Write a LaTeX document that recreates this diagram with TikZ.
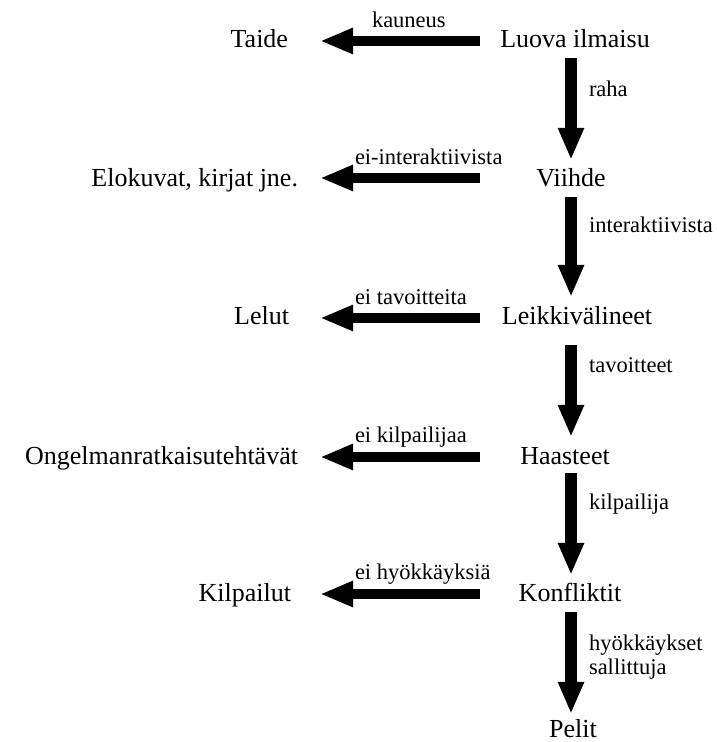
\documentclass[tikz,border=0pt]{standalone}
\usepackage{fontspec}
\setmainfont{Liberation Serif}
\usetikzlibrary{arrows.meta}

\tikzset{
  term/.style={inner sep=0pt, outer sep=0pt, font=\fontsize{26}{30}\selectfont},
  lbl/.style={inner sep=0pt, outer sep=0pt, anchor=base west, font=\fontsize{22.5}{24}\selectfont},
  hfat/.style={line width=10.5pt, -{Triangle[length=33pt, width=24pt]}},
  vfat/.style={line width=11.5pt, -{Triangle[length=32pt, width=24pt]}},
}

\begin{document}
\begin{tikzpicture}[x=1pt, y=1pt]
\useasboundingbox (0,0) rectangle (717,742);

% columns used by the connectors
\coordinate (tailcol) at (480,0);
\coordinate (tipcol) at (320,0);
\coordinate (vcol) at (571,0);

% main chain
\node[term, anchor=base] (luova)      at (575,694) {Luova ilmaisu};
\node[term, anchor=base] (viihde)     at (571,555) {Viihde};
\node[term, anchor=base] (leikki)     at (577,417) {Leikkivälineet};
\node[term, anchor=base] (haasteet)   at (565,277) {Haasteet};
\node[term, anchor=base] (konfliktit) at (570,140) {Konfliktit};
\node[term, anchor=base] (pelit)      at (573,5)   {Pelit};

% side branches
\node[term, anchor=base east] (taide)     at (288,694) {Taide};
\node[term, anchor=base east] (elokuvat)  at (298,555) {Elokuvat, kirjat jne.};
\node[term, anchor=base east] (lelut)     at (289,417) {Lelut};
\node[term, anchor=base east] (ongelma)   at (298,277) {Ongelmanratkaisutehtävät};
\node[term, anchor=base east] (kilpailut) at (291,140) {Kilpailut};

% branch arrows
\draw[hfat] ([yshift=7pt]tailcol |- luova.base)      -- ([yshift=7pt]tipcol |- taide.base);
\draw[hfat] ([yshift=9pt]tailcol |- viihde.base)     -- ([yshift=9pt]tipcol |- elokuvat.base);
\draw[hfat] ([yshift=7pt]tailcol |- leikki.base)     -- ([yshift=7pt]tipcol |- lelut.base);
\draw[hfat] ([yshift=8pt]tailcol |- haasteet.base)   -- ([yshift=8pt]tipcol |- ongelma.base);
\draw[hfat] ([yshift=8pt]tailcol |- konfliktit.base) -- ([yshift=8pt]tipcol |- kilpailut.base);

% chain arrows
\draw[vfat] ([yshift=-10pt]vcol |- luova.base)      -- ([yshift=27pt]vcol |- viihde.base);
\draw[vfat] ([yshift=-10pt]vcol |- viihde.base)     -- ([yshift=28pt]vcol |- leikki.base);
\draw[vfat] ([yshift=-20pt]vcol |- leikki.base)     -- ([yshift=28pt]vcol |- haasteet.base);
\draw[vfat] ([yshift=-8pt]vcol |- haasteet.base)    -- ([yshift=27pt]vcol |- konfliktit.base);
\draw[vfat] ([yshift=-10pt]vcol |- konfliktit.base) -- ([yshift=23pt]vcol |- pelit.base);

% branch labels
\node[lbl] (l1) at (372,714) {kauneus};
\node[lbl] (l2) at (355,577) {ei-interaktiivista};
\node[lbl] (l3) at (355,437) {ei tavoitteita};
\node[lbl] (l4) at (355,299) {ei kilpailijaa};
\node[lbl] (l5) at (355,162) {ei hyökkäyksiä};

% chain labels
\node[lbl] (c1) at (589,645) {raha};
\node[lbl] (c2) at (589,509) {interaktiivista};
\node[lbl] (c3) at (589,369) {tavoitteet};
\node[lbl] (c4) at (589,232) {kilpailija};
\node[lbl] (c5) at (589,91)
  {\begin{tabular}[t]{@{}l@{}}hyökkäykset\\ sallittuja\end{tabular}};
\end{tikzpicture}
\end{document}
